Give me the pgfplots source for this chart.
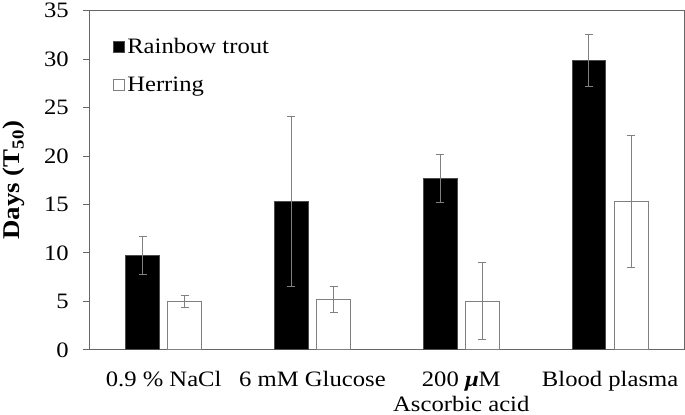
\documentclass[border=0pt]{standalone}
\usepackage{fontspec}
\setmainfont{Liberation Serif}[FakeStretch=1.12]
\usepackage{pgfplots}
\usepackage{pgfplotstable}
\pgfplotsset{compat=1.18}
\pgfplotstableread{
x  y     e
0  9.76  1.98
1  15.31 8.77
2  17.70 2.50
3  29.85 2.70
}\trout
\pgfplotstableread{
x  y     e
0  4.99  0.62
1  5.20  1.34
2  5.03  3.96
3  15.30 6.80
}\herring
\begin{document}
\begin{tikzpicture}[font=\fontsize{22bp}{25bp}\selectfont]
\begin{axis}[
  scale only axis, width=595bp, height=339bp,
  xmin=-0.5, xmax=3.5, ymin=0, ymax=35,
  ytick={0,5,...,35},
  xtick={0,1,2,3},
  /pgf/number format/assume math mode=true,
  xticklabels={0.9 \% NaCl, 6 mM Glucose, {200 \textbf{\textit{μ}}M\\Ascorbic acid}, Blood plasma},
  xticklabel style={align=center, anchor=north, yshift=-12bp},
  x tick style={draw=none},
  y tick style={gray!80!black, line width=1bp},
  major tick length=6bp,
  tick align=outside, ytick pos=left,
  yticklabel style={xshift=-11bp},
  axis line style={gray!80!black, line width=1bp},
  ylabel={\textbf{Days (T\textsubscript{50})}},
  ylabel style={at={(axis description cs:-0.126,0.5)}, anchor=center,
    font=\fontsize{24bp}{27bp}\selectfont},
  legend style={at={(0.035,0.93)}, anchor=north west, draw=none, fill=none,
    row sep=18bp, font=\fontsize{22bp}{25bp}\selectfont},
  legend cell align=left,
  legend image code/.code={\draw[#1] (0bp,-5bp) rectangle (11bp,6bp);},
  error bars/error bar style={gray, line width=1bp},
  error bars/error mark options={rotate=90, mark size=4bp, gray, line width=1bp},
]
\addplot[ybar, bar width=0.228, bar shift=0, fill=black, draw=gray!60!black, line width=1bp,
  error bars/.cd, y dir=both, y explicit]
  table[x expr=\thisrow{x}-0.142, y=y, y error=e] {\trout};
\addlegendentry{Rainbow trout}
\addplot[ybar, bar width=0.228, bar shift=0, fill=white, draw=gray, line width=1bp,
  error bars/.cd, y dir=both, y explicit]
  table[x expr=\thisrow{x}+0.142, y=y, y error=e] {\herring};
\addlegendentry{Herring}
\end{axis}
\end{tikzpicture}
\end{document}
